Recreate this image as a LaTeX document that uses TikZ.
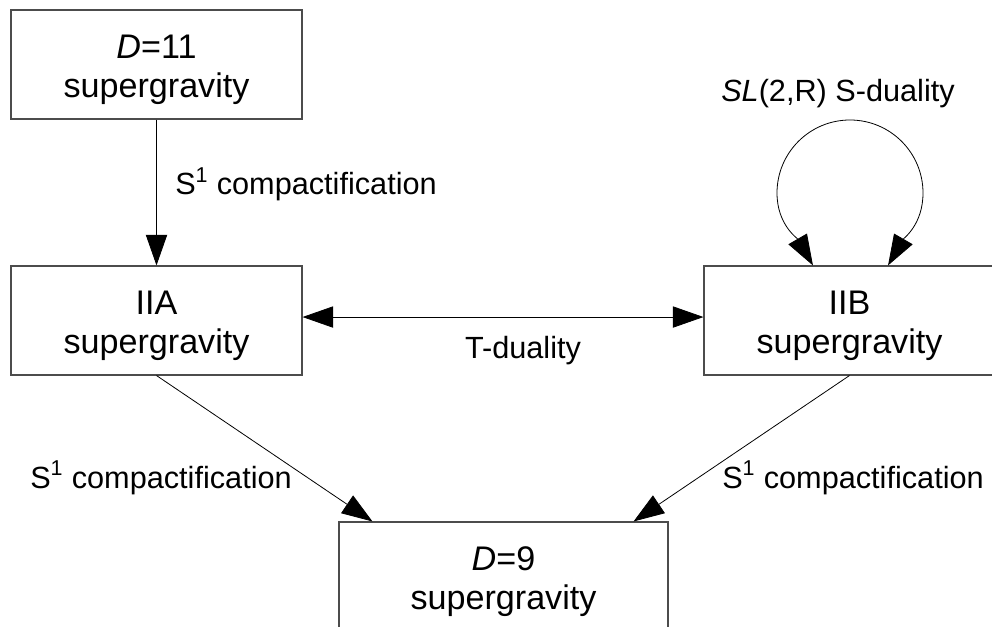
\documentclass[tikz,border=0pt]{standalone}
\usepackage{fontspec}
\setmainfont{Liberation Sans}
\usetikzlibrary{arrows.meta}
\newcommand\bxfont{\fontsize{25.6}{29.25}\selectfont}
\newcommand\lblfont{\fontsize{23}{27}\selectfont}
\tikzset{
  gbox/.style={draw=black!70, line width=0.8pt, inner sep=0pt, align=center,
    minimum width=218.25pt, minimum height=81.75pt, font=\bxfont},
  conn/.style={line width=0.6pt, black},
  tip/.style={-{Triangle[length=23pt,width=16pt]}},
  tips/.style={{Triangle[length=23pt,width=16pt]}-{Triangle[length=23pt,width=16pt]}},
  lbl/.style={inner sep=0pt, font=\lblfont}
}
\begin{document}
\begin{tikzpicture}[x=0.75pt,y=0.75pt]
\useasboundingbox (0,0) rectangle (992,-627);
\node[gbox] (d11) at (156.5,-64.5) {\rule{0pt}{26pt}\textit{D}=11\\supergravity};
\node[gbox] (iia) at (156.5,-320.5) {\rule{0pt}{26pt}IIA\\supergravity};
\node[gbox] (iib) at (849.5,-320.5) {\rule{0pt}{26pt}IIB\\supergravity};
\node[gbox, minimum width=246.75pt] (d9) at (503.5,-576.5) {\rule{0pt}{26pt}\textit{D}=9\\supergravity};

\draw[conn,tip] (d11.south) -- (iia.north);
\draw[conn,tips] ([yshift=2.6pt]iia.east) -- ([yshift=2.6pt]iib.west);
\draw[conn,tip] (iia.south) -- ([xshift=25.5pt]d9.north west);
\draw[conn,tip] (iib.south) -- ([xshift=-26.25pt]d9.north east);
\draw[conn,tips] ([xshift=-27.4pt]iib.north) to[out=120,in=-90] (777,-193)
  arc[start angle=180,end angle=0,radius=73]
  to[out=-90,in=60] ([xshift=28.9pt]iib.north);

\node[lbl, anchor=base west] (l1) at (175,-195) {S\textsuperscript{1} compactification};
\node[lbl, anchor=base west] (l2) at (30,-488) {S\textsuperscript{1} compactification};
\node[lbl, anchor=base west] (l3) at (722,-488) {S\textsuperscript{1} compactification};
\node[lbl, anchor=base] (l4) at (523,-358) {T-duality};
\node[lbl, anchor=base east] (l5) at (955,-102) {\textit{SL}(2,R) S-duality};
\end{tikzpicture}
\end{document}
